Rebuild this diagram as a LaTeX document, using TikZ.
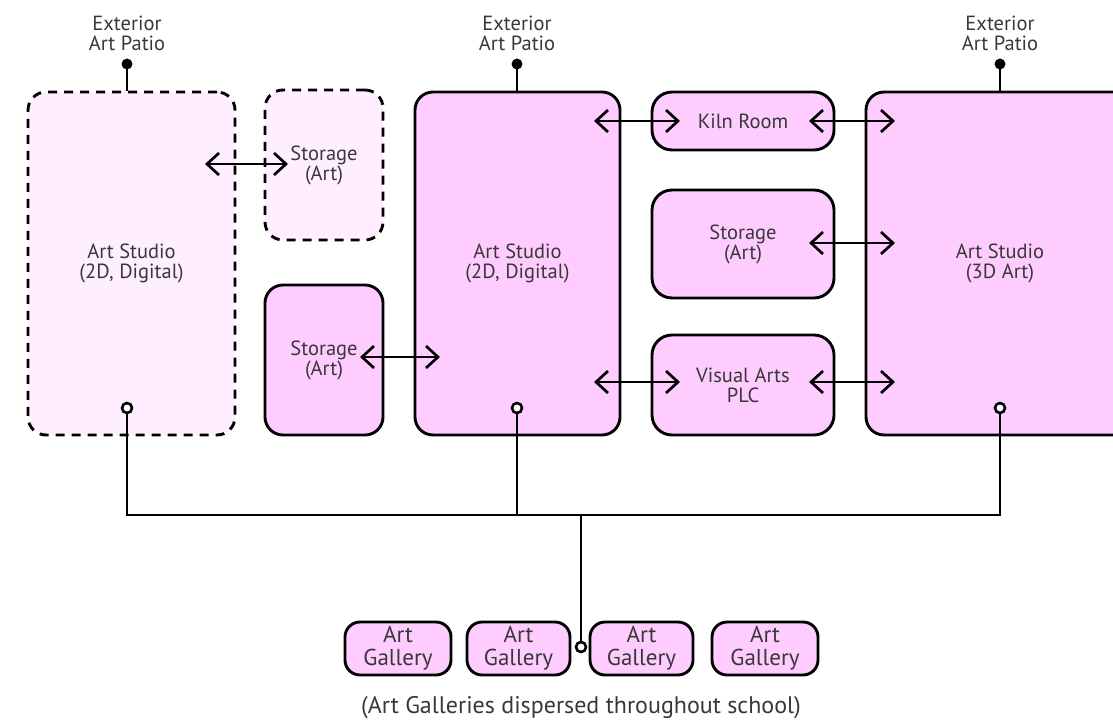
\documentclass[tikz,border=0pt]{standalone}
\usepackage{fontspec}
\setmainfont{PT Sans}
\usetikzlibrary{arrows.meta,calc}
\definecolor{roomfill}{HTML}{FFCCFF}
\definecolor{ghostfill}{HTML}{FFEEFF}
\definecolor{txt}{HTML}{383838}
\newcommand{\roomfont}{\fontsize{20.5}{20}\selectfont}
\newcommand{\galfont}{\fontsize{23}{23}\selectfont}
\begin{document}
\begin{tikzpicture}[x=1pt,y=-1pt,
  room/.style={draw, line width=2.9pt, fill=roomfill, rounded corners=18pt,
    align=center, font=\roomfont, text=txt, inner sep=0pt},
  ghost/.style={room, fill=ghostfill, dash pattern=on 9pt off 7pt},
  gal/.style={room, rounded corners=15pt, font=\galfont},
  lbl/.style={align=center, font=\roomfont, text=txt, inner sep=0pt},
  link/.style={line width=2.7pt, {Straight Barb[length=12pt,width=22pt]}-{Straight Barb[length=12pt,width=22pt]}},
  wire/.style={line width=2.7pt},
  dot/.style={circle, fill=black, minimum size=11pt, inner sep=0pt},
  ring/.style={circle, draw, line width=2.6pt, fill=white, minimum size=10pt, inner sep=0pt}]
\useasboundingbox (0,0) rectangle (1113,723);
\clip (0,0) rectangle (1113,723);
% rooms
\node[ghost, minimum width=207pt, minimum height=343pt] (s1) at (131.5,263.5) {Art Studio\\(2D, Digital)};
\node[ghost, minimum width=118pt, minimum height=150pt] (st1) at (324,165) {Storage\\(Art)};
\node[room, minimum width=118pt, minimum height=150pt] (st2) at (324,360) {Storage\\(Art)};
\node[room, minimum width=205pt, minimum height=343pt] (s2) at (517.5,263.5) {Art Studio\\(2D, Digital)};
\node[room, rounded corners=20pt, minimum width=182pt, minimum height=58pt] (kiln) at (743,121) {Kiln Room};
\node[room, rounded corners=20pt, minimum width=182pt, minimum height=108pt] (st3) at (743,244) {Storage\\(Art)};
\node[room, rounded corners=20pt, minimum width=182pt, minimum height=100pt] (plc) at (743,385) {Visual Arts\\PLC};
\node[room, minimum width=268pt, minimum height=343pt] (s3) at (1000,263.5) {Art Studio\\(3D Art)};
% patios
\node[lbl] (p1) at (127,33) {Exterior\\Art Patio};
\node[lbl] (p2) at (517,33) {Exterior\\Art Patio};
\node[lbl] (p3) at (1000,33) {Exterior\\Art Patio};
\node[dot] (d1) at (127,64) {};
\node[dot] (d2) at (517,64) {};
\node[dot] (d3) at (1000,64) {};
\draw[wire] (d1.center) -- (d1 |- s1.north);
\draw[wire] (d2.center) -- (d2 |- s2.north);
\draw[wire] (d3.center) -- (d3 |- s3.north);
% arrows
\coordinate (a1l) at (205,164); \coordinate (a1r) at (288,164);
\coordinate (a2l) at (360,357); \coordinate (a2r) at (440,357);
\coordinate (a3l) at (594,121); \coordinate (a3r) at (680,121);
\coordinate (a4l) at (809,121); \coordinate (a4r) at (895,121);
\coordinate (a5l) at (809,243); \coordinate (a5r) at (895,243);
\coordinate (a6l) at (594,382); \coordinate (a6r) at (680,382);
\coordinate (a7l) at (809,382); \coordinate (a7r) at (895,382);
\draw[link] (a1l) -- (a1r);
\draw[link] (a2l) -- (a2r);
\draw[link] (a3l) -- (a3r);
\draw[link] (a4l) -- (a4r);
\draw[link] (a5l) -- (a5r);
\draw[link] (a6l) -- (a6r);
\draw[link] (a7l) -- (a7r);
% galleries
\node[gal, minimum width=106pt, minimum height=53pt] (g1) at (398,648.5) {Art\\Gallery};
\node[gal, minimum width=103pt, minimum height=53pt] (g2) at (518.5,648.5) {Art\\Gallery};
\node[gal, minimum width=103pt, minimum height=53pt] (g3) at (641.5,648.5) {Art\\Gallery};
\node[gal, minimum width=106pt, minimum height=53pt] (g4) at (765,648.5) {Art\\Gallery};
\node[lbl, font=\fontsize{24}{24}\selectfont] (cap) at (581,708) {(Art Galleries dispersed throughout school)};
% circulation
\node[ring] (c1) at (127,408) {};
\node[ring] (c2) at (517,408) {};
\node[ring] (c3) at (1000,408) {};
\node[ring] (cg) at (581,647) {};
\coordinate (b1) at (127,515);
\coordinate (b2) at (517,515);
\coordinate (b3) at (1000,515);
\coordinate (bg) at (581,515);
\draw[wire] (c1.south) -- (b1) -- (b3) -- (c3.south);
\draw[wire] (c2.south) -- (b2);
\draw[wire] (bg) -- (cg.north);
\end{tikzpicture}
\end{document}
